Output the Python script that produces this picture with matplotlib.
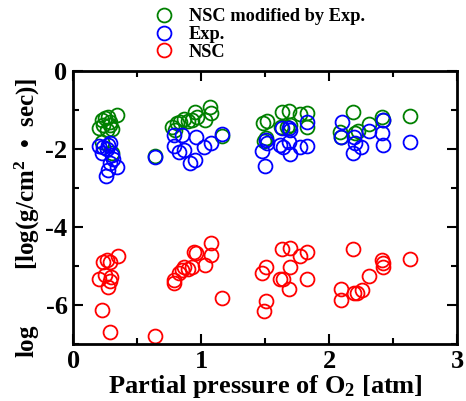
import matplotlib
matplotlib.use("Agg")
import matplotlib.pyplot as plt
from matplotlib.ticker import MultipleLocator
from matplotlib.lines import Line2D

plt.rcParams['font.family'] = ['Liberation Serif', 'DejaVu Serif']
plt.rcParams['font.weight'] = 'bold'
plt.rcParams['mathtext.fontset'] = 'custom'
plt.rcParams['mathtext.rm'] = 'Liberation Serif:bold'
plt.rcParams['mathtext.it'] = 'Liberation Serif:bold'
plt.rcParams['mathtext.bf'] = 'Liberation Serif:bold'

# NSC modified by Exp. (green)
mod_x = [0.205, 0.224, 0.25, 0.276, 0.346, 0.237, 0.284, 0.302, 0.263, 0.224, 0.302, 0.289,
         0.641,
         0.771, 0.797, 0.810, 0.836, 0.867, 0.901, 0.927, 0.953, 0.966, 1.031, 1.070, 1.076, 1.162,
         1.482, 1.513, 1.508, 1.630, 1.690, 1.773, 1.830, 1.623, 1.670, 1.695, 1.830, 1.492,
         2.190, 2.086, 2.091, 2.203, 2.229, 2.315, 2.416, 2.424,
         2.633]
mod_y = [-1.47, -1.26, -1.21, -1.19, -1.13, -1.38, -1.30, -1.49, -1.51, -1.81, -2.09, -1.38,
         -2.18,
         -1.43, -1.51, -1.33, -1.30, -1.24, -1.27, -1.26, -1.04, -1.17, -1.26, -0.93, -1.07, -1.67,
         -1.34, -1.27, -1.73, -1.04, -1.02, -1.10, -1.07, -1.43, -1.43, -1.38, -1.43, -1.79,
         -1.04, -1.56, -1.70, -1.58, -1.53, -1.36, -1.19, -1.26,
         -1.15]

# Exp. (blue)
exp_x = [0.205, 0.237, 0.276, 0.289, 0.224, 0.263, 0.302, 0.310, 0.284, 0.346, 0.276, 0.255,
         0.641,
         0.784, 0.849, 0.784, 0.830, 0.867, 0.914, 0.953, 0.961, 1.023, 1.076, 1.162,
         1.474, 1.500, 1.508, 1.513, 1.630, 1.690, 1.695, 1.830, 1.690, 1.617, 1.643, 1.695, 1.773, 1.830,
         2.099, 2.091, 2.195, 2.203, 2.190, 2.248, 2.315, 2.420, 2.416, 2.424,
         2.633]
exp_y = [-1.92, -1.96, -1.90, -1.85, -2.11, -2.01, -2.15, -2.26, -2.37, -2.47, -2.54, -2.69,
         -2.21,
         -1.64, -1.64, -1.92, -2.07, -2.03, -2.37, -2.28, -1.70, -1.96, -1.84, -1.62,
         -2.04, -2.44, -1.77, -1.84, -1.47, -1.47, -1.51, -1.30, -1.81, -1.90, -1.94, -2.13, -1.96, -1.92,
         -1.30, -1.70, -1.70, -1.85, -2.09, -1.94, -1.53, -1.26, -1.58, -1.90,
         -1.81]

# NSC (red)
nsc_x = [0.205, 0.232, 0.263, 0.284, 0.349, 0.25, 0.295, 0.289, 0.276, 0.224, 0.289,
         0.641,
         0.784, 0.789, 0.823, 0.849, 0.867, 0.901, 0.927, 0.945, 0.961, 1.031, 1.076, 1.076, 1.162,
         1.474, 1.508, 1.508, 1.492, 1.635, 1.695, 1.695, 1.617, 1.643, 1.690, 1.773, 1.830, 1.826,
         2.190, 2.091, 2.091, 2.195, 2.216, 2.255, 2.315, 2.416, 2.424, 2.420,
         2.633]
nsc_y = [-5.32, -4.89, -4.85, -4.89, -4.73, -5.23, -5.29, -5.38, -5.53, -6.13, -6.68,
         -6.79,
         -5.36, -5.44, -5.19, -5.10, -5.02, -5.08, -5.02, -4.63, -4.67, -4.97, -4.72, -4.42, -5.83,
         -5.19, -5.02, -5.89, -6.15, -4.57, -4.55, -5.02, -5.32, -5.34, -5.59, -4.74, -4.63, -5.33,
         -4.57, -5.60, -5.87, -5.68, -5.70, -5.62, -5.25, -4.85, -4.93, -5.02,
         -4.82]

legend_labels = ["NSC modified by Exp.", "Exp.", "NSC"]
colors = ["#008000", "#0000ff", "#ff0000"]
x_ticks = [0, 1, 2, 3]
y_ticks = [0, -2, -4, -6]
y_ticklabels = ["0", "-2", "-4", "-6"]

fig = plt.figure(figsize=(4.66, 4.01), dpi=100)
ax = fig.add_axes([0.157, 0.142, 0.824, 0.681])

ms = 10
mew = 1.3
for xs, ys, c in [(mod_x, mod_y, colors[0]), (exp_x, exp_y, colors[1]), (nsc_x, nsc_y, colors[2])]:
    ax.plot(xs, ys, 'o', ls='none', mfc='none', mec=c, ms=ms, mew=mew)

ax.set_xlim(0, 3)
ax.set_ylim(-7, 0)
ax.set_xticks(x_ticks)
ax.xaxis.set_minor_locator(MultipleLocator(0.5))
ax.set_yticks(y_ticks)
ax.set_yticklabels(y_ticklabels)
ax.yaxis.set_minor_locator(MultipleLocator(1))
ax.tick_params(which='both', direction='in', top=True, right=True, width=1.5)
ax.tick_params(which='major', length=7, labelsize=19, pad=4)
ax.tick_params(which='minor', length=4)
for s in ax.spines.values():
    s.set_linewidth(2)

ax.set_xlabel("Partial pressure of O$_2$ [atm]", fontsize=19, fontweight='bold', labelpad=0)
ax.set_ylabel("log         [log(g/cm$^{2}$  \u2022  sec)]", fontsize=18, fontweight='bold')
ax.yaxis.set_label_coords(-0.082, 0.462)

handles = [Line2D([], [], marker='o', ls='none', mfc='none', mec=c, ms=ms, mew=mew) for c in colors]
fig.legend(handles, legend_labels, loc='upper left', bbox_to_anchor=(0.295, 1.012), frameon=False,
           prop={'family': 'Liberation Serif', 'weight': 'bold', 'size': 13.2},
           handletextpad=0.6, labelspacing=0.05, borderpad=0.2, handlelength=1.5)

fig.savefig("out.png", dpi=100)
